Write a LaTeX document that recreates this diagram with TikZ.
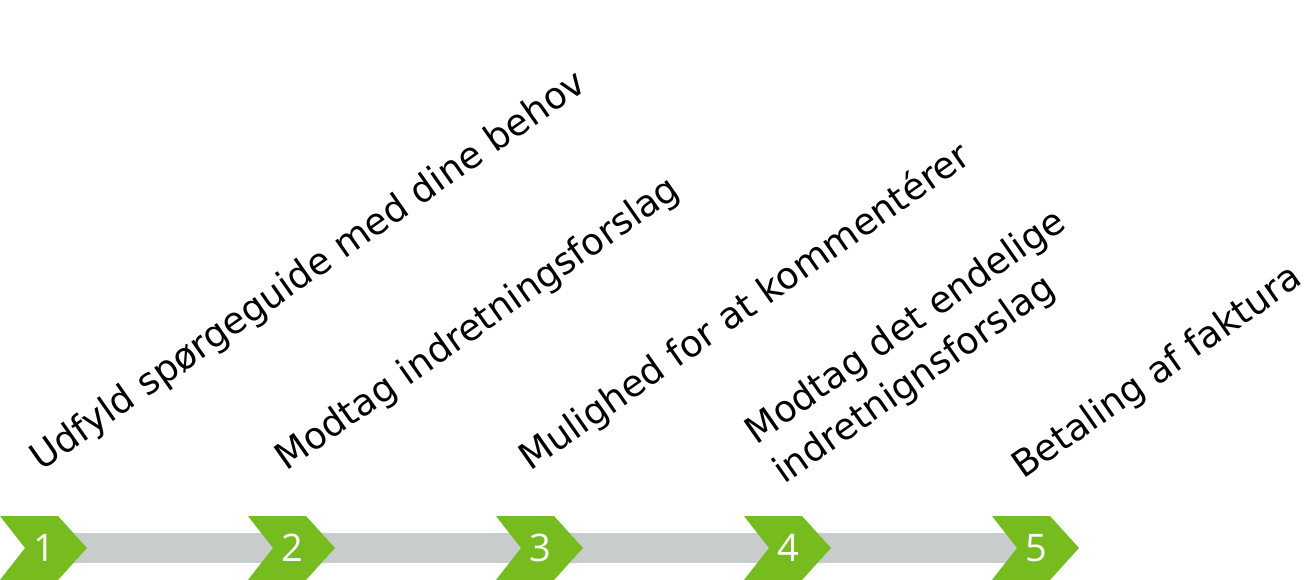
\documentclass[tikz,border=0pt]{standalone}
\usepackage{fontspec}
\setmainfont{DejaVu Sans}
\newfontfamily\numfont{Open Sans}
\definecolor{grn}{HTML}{77BC1F}
\definecolor{barg}{HTML}{C9CCCC}
\begin{document}
\begin{tikzpicture}[x=1pt,y=-1pt,
  chev/.style={fill=grn},
  bar/.style={draw=barg, line width=30pt},
  num/.style={text=white, font=\numfont\fontsize{38}{38}\selectfont, inner sep=0pt},
  lbl/.style={anchor=base west, rotate=35, font=\fontsize{36.8}{48.5}\selectfont, inner sep=0pt, align=left}]
\useasboundingbox (0,0) rectangle (1312,580);
\foreach \i in {1,...,5} {
  \coordinate (c\i) at ({248*(\i-1)+44},548);
}
\draw[bar] (c1) -- (c5);
\foreach \i in {1,...,5} {
  \fill[chev] ({248*(\i-1)},516) -- ++(58,0) -- ++(29,32) -- ++(-29,32) -- ++(-58,0) -- ++(25,-32) -- cycle;
  \node[num] (n\i) at (c\i) {\i};
}
\node[lbl] (l1) at (41,472) {Udfyld spørgeguide med dine behov};
\node[lbl] (l2) at (286,472) {Modtag indretningsforslag};
\node[lbl] (l3) at (530,472) {Mulighed for at kommentérer};
\node[lbl] (l4) at (784,485) {Modtag det endelige\\indretnignsforslag};
\node[lbl] (l5) at (1023,480) {Betaling af faktura};
\end{tikzpicture}
\end{document}
